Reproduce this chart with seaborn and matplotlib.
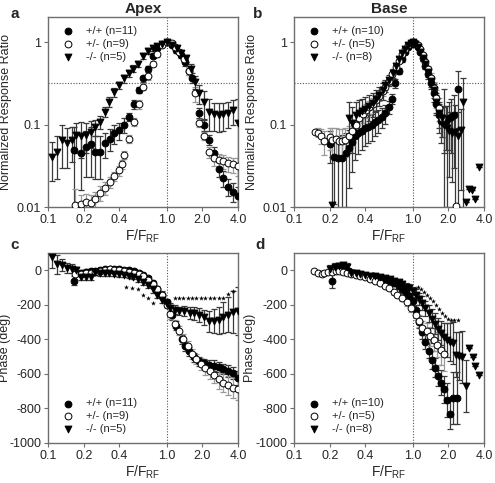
import numpy as np
import matplotlib
matplotlib.use("Agg")
import matplotlib.pyplot as plt
from matplotlib.ticker import NullLocator
import seaborn as sns

sns.set_theme(style="ticks")
plt.rcParams["font.family"] = ["Liberation Sans", "DejaVu Sans"]
plt.rcParams["mathtext.default"] = "regular"
plt.rcParams["axes.unicode_minus"] = False

# ---------------- panel a : apex, amplitude ----------------
a_wt_x = [0.165, 0.19, 0.21, 0.23, 0.25, 0.275, 0.30, 0.33, 0.36, 0.40, 0.44, 0.48, 0.53, 0.58, 0.63, 0.69, 0.76, 0.83,
          0.91, 1.0, 1.1, 1.21, 1.32, 1.44, 1.55, 1.62, 1.88, 2.07, 2.29, 2.52, 2.75, 3.0, 3.3, 3.62, 3.98]
a_wt_y = [0.049, 0.046, 0.053, 0.058, 0.047, 0.047, 0.060, 0.068, 0.079, 0.086, 0.099, 0.125, 0.177, 0.263, 0.364,
          0.48, 0.69, 0.84, 0.95, 1.0, 0.93, 0.80, 0.70, 0.57, 0.45, 0.37, 0.14, 0.099, 0.066, 0.046, 0.029, 0.0225,
          0.0178, 0.0155, 0.0135]
a_wt_e = [0.045, 0.03, 0.03, 0.035, 0.025, 0.025, 0.02, 0.02, 0.02, 0.02, 0.02, 0.015, 0.02, 0.02, 0.03, 0.04, 0.04,
          0.04, 0.03, 0.02, 0.04, 0.05, 0.05, 0.05, 0.05, 0.05, 0.02, 0.015, 0.01, 0.008, 0.006, 0.005, 0.004, 0.004,
          0.004]

a_het_x = [0.17, 0.19, 0.21, 0.23, 0.25, 0.275, 0.30, 0.33, 0.36, 0.40, 0.42, 0.44, 0.48, 0.53, 0.58, 0.63, 0.69, 0.76,
           0.83, 0.91, 1.0, 1.1, 1.18, 1.28, 1.4, 1.55, 1.73, 1.88, 2.07, 2.29, 2.53, 2.76, 3.0, 3.3, 3.6, 3.98]
a_het_y = [0.0105, 0.011, 0.0115, 0.0112, 0.0125, 0.015, 0.017, 0.020, 0.024, 0.028, 0.033, 0.043, 0.068, 0.109,
           0.177, 0.29, 0.39, 0.55, 0.71, 0.92, 1.0, 0.97, 0.88, 0.77, 0.62, 0.45, 0.24, 0.106, 0.074, 0.047, 0.039,
           0.037, 0.036, 0.034, 0.033, 0.032]
a_het_e = [0.006, 0.003, 0.003, 0.003, 0.003, 0.003, 0.003, 0.003, 0.003, 0.004, 0.004, 0.005, 0.008, 0.012, 0.02,
           0.03, 0.04, 0.04, 0.04, 0.03, 0.02, 0.03, 0.04, 0.05, 0.05, 0.05, 0.05, 0.012, 0.008, 0.007, 0.007, 0.007,
           0.007, 0.007, 0.007, 0.008]

a_ko_x = [0.109, 0.12, 0.132, 0.144, 0.158, 0.172, 0.19, 0.208, 0.229, 0.249, 0.275, 0.302, 0.329, 0.362, 0.397, 0.438,
          0.482, 0.525, 0.578, 0.63, 0.693, 0.76, 0.834, 0.92, 1.0, 1.1, 1.22, 1.32, 1.45, 1.59, 1.73, 1.88, 2.07,
          2.29, 2.53, 2.76, 3.0, 3.3, 3.6, 3.98]
a_ko_y = [0.041, 0.047, 0.065, 0.06, 0.065, 0.075, 0.074, 0.075, 0.082, 0.093, 0.109, 0.144, 0.19, 0.246, 0.30, 0.364,
          0.418, 0.48, 0.55, 0.68, 0.78, 0.84, 0.90, 0.96, 1.0, 0.92, 0.84, 0.73, 0.64, 0.48, 0.33, 0.24, 0.187,
          0.144, 0.134, 0.131, 0.134, 0.14, 0.15, 0.104]
a_ko_e = [0.02, 0.025, 0.035, 0.03, 0.03, 0.03, 0.035, 0.03, 0.03, 0.02, 0.02, 0.02, 0.025, 0.03, 0.03, 0.04, 0.04,
          0.05, 0.05, 0.06, 0.06, 0.05, 0.05, 0.03, 0.02, 0.04, 0.05, 0.06, 0.06, 0.06, 0.06, 0.06, 0.07, 0.06, 0.05,
          0.05, 0.05, 0.05, 0.05, 0.1]

# ---------------- panel b : base, amplitude ----------------
b_wt_x = [0.2, 0.217, 0.235, 0.255, 0.272, 0.29, 0.306, 0.327, 0.349, 0.372, 0.397, 0.424, 0.452, 0.483, 0.515, 0.55,
          0.587, 0.626, 0.668, 0.713, 0.76, 0.81, 0.86, 0.91, 0.96, 1.0, 1.05, 1.1, 1.16, 1.22, 1.28, 1.35, 1.42, 1.5,
          1.58, 1.66, 1.74, 1.83, 1.92, 2.02, 2.12, 2.23, 2.4]
b_wt_y = [0.059, 0.041, 0.039, 0.040, 0.045, 0.052, 0.062, 0.072, 0.079, 0.084, 0.09, 0.095, 0.099, 0.107, 0.114,
          0.125, 0.137, 0.165, 0.207, 0.32, 0.45, 0.62, 0.76, 0.88, 0.96, 1.0, 0.96, 0.88, 0.76, 0.64, 0.52, 0.41,
          0.32, 0.24, 0.18, 0.13, 0.11, 0.105, 0.11, 0.12, 0.125, 0.13, 0.27]
b_wt_e = [0.025, 0.03, 0.035, 0.035, 0.035, 0.035, 0.035, 0.035, 0.035, 0.035, 0.035, 0.035, 0.035, 0.035, 0.035,
          0.035, 0.035, 0.03, 0.03, 0.04, 0.04, 0.04, 0.03, 0.03, 0.02, 0.02, 0.02, 0.03, 0.04, 0.05, 0.05, 0.05,
          0.05, 0.05, 0.05, 0.05, 0.05, 0.06, 0.06, 0.07, 0.08, 0.1, 0.18]

b_het_x = [0.15, 0.16, 0.17, 0.18, 0.2, 0.21, 0.225, 0.24, 0.255, 0.27, 0.29, 0.31, 0.33, 0.355, 0.38, 0.405, 0.43,
           0.46, 0.49, 0.52, 0.56, 0.59, 0.63, 0.67, 0.72, 0.76, 0.81, 0.86, 0.91, 0.96, 1.0, 1.05, 1.1, 1.16, 1.22,
           1.28, 1.35, 1.42, 1.5, 1.58, 1.66, 1.75, 2.33]
b_het_y = [0.081, 0.08, 0.074, 0.063, 0.07, 0.066, 0.067, 0.064, 0.063, 0.066, 0.072, 0.085, 0.10, 0.12, 0.135, 0.15,
           0.165, 0.18, 0.20, 0.225, 0.255, 0.29, 0.335, 0.41, 0.50, 0.60, 0.72, 0.83, 0.92, 0.98, 1.0, 0.98, 0.92,
           0.82, 0.70, 0.58, 0.47, 0.37, 0.28, 0.21, 0.16, 0.12, 0.0102]
b_het_e = [0.0, 0.01, 0.015, 0.02, 0.02, 0.025, 0.025, 0.025, 0.025, 0.025, 0.025, 0.03, 0.03, 0.03, 0.03, 0.03, 0.03,
           0.03, 0.03, 0.03, 0.03, 0.03, 0.03, 0.03, 0.03, 0.03, 0.03, 0.03, 0.02, 0.02, 0.02, 0.02, 0.02, 0.03, 0.04,
           0.05, 0.05, 0.05, 0.05, 0.05, 0.05, 0.05, 0.0]

b_ko_x = [0.21, 0.29, 0.31, 0.33, 0.354, 0.375, 0.40, 0.43, 0.46, 0.49, 0.52, 0.56, 0.59, 0.63, 0.68, 0.72, 0.76, 0.81,
          0.86, 0.91, 0.96, 1.0, 1.05, 1.1, 1.16, 1.22, 1.28, 1.35, 1.42, 1.5, 1.58, 1.66, 1.75, 1.84, 1.94, 2.04,
          2.15, 2.27, 2.4, 2.54, 2.68, 2.84, 2.97, 3.15, 3.35, 3.6]
b_ko_y = [0.0105, 0.12, 0.105, 0.13, 0.14, 0.145, 0.155, 0.17, 0.185, 0.205, 0.23, 0.26, 0.30, 0.345, 0.42, 0.52, 0.62,
          0.73, 0.83, 0.92, 0.97, 1.0, 0.96, 0.88, 0.77, 0.65, 0.54, 0.43, 0.34, 0.26, 0.19, 0.14, 0.12, 0.10, 0.09,
          0.083, 0.08, 0.082, 0.072, 0.086, 0.19, 0.0116, 0.0165, 0.016, 0.0125, 0.031]
b_ko_e = [0.03, 0.07, 0.06, 0.06, 0.06, 0.06, 0.06, 0.06, 0.06, 0.06, 0.06, 0.06, 0.05, 0.05, 0.05, 0.04, 0.04, 0.03,
          0.03, 0.02, 0.02, 0.02, 0.02, 0.03, 0.04, 0.05, 0.05, 0.05, 0.05, 0.05, 0.05, 0.05, 0.05, 0.17, 0.08, 0.06,
          0.06, 0.09, 0.07, 0.07, 0.18, 0.0, 0.0, 0.0, 0.0, 0.0]

# ---------------- panel c : apex, phase ----------------
c_wt_x = [0.165, 0.19, 0.21, 0.23, 0.25, 0.275, 0.30, 0.33, 0.36, 0.40, 0.44, 0.48, 0.53, 0.58, 0.63, 0.69, 0.76, 0.83,
          0.91, 1.0, 1.1, 1.21, 1.34, 1.43, 1.55, 1.7, 1.88, 2.07, 2.28, 2.5, 2.74, 3.0, 3.3, 3.6, 3.98]
c_wt_y = [-60, -15, -10, -5, -5, 0, 5, 5, 5, 5, 2, 0, -5, -15, -25, -45, -75, -110, -140, -185, -260, -320, -400, -440,
          -470, -505, -527, -537, -547, -552, -560, -570, -581, -595, -625]
c_wt_e = [25, 15, 15, 15, 15, 15, 15, 10, 10, 10, 10, 10, 10, 10, 10, 15, 15, 15, 20, 20, 25, 25, 25, 25, 25, 25, 25,
          25, 25, 30, 30, 30, 35, 35, 40]

c_het_x = [0.17, 0.19, 0.21, 0.23, 0.25, 0.275, 0.30, 0.33, 0.36, 0.40, 0.44, 0.48, 0.53, 0.58, 0.63, 0.69, 0.76, 0.83,
           0.91, 1.0, 1.07, 1.17, 1.27, 1.38, 1.5, 1.63, 1.78, 1.94, 2.1, 2.3, 2.5, 2.75, 3.0, 3.3, 3.6, 3.98]
c_het_y = [-20, -20, -15, -15, -10, -5, 0, 5, 0, 0, -5, -10, -15, -20, -35, -55, -80, -110, -145, -200, -255, -310,
           -350, -395, -440, -485, -515, -545, -565, -585, -605, -630, -650, -665, -680, -690]
c_het_e = [15, 15, 15, 15, 15, 15, 15, 15, 15, 15, 15, 15, 15, 15, 15, 15, 20, 20, 20, 20, 25, 25, 25, 25, 30, 30, 30,
           35, 40, 45, 50, 55, 55, 55, 60, 60]

c_ko_x = [0.109, 0.12, 0.132, 0.144, 0.158, 0.172, 0.19, 0.208, 0.229, 0.249, 0.275, 0.302, 0.329, 0.362, 0.397, 0.438,
          0.482, 0.525, 0.578, 0.63, 0.693, 0.76, 0.834, 0.92, 1.0, 1.07, 1.17, 1.27, 1.4, 1.56, 1.7, 1.88, 2.07,
          2.28, 2.5, 2.74, 3.0, 3.3, 3.6, 3.98]
c_ko_y = [75, 35, 30, 15, 10, 0, -40, -40, -40, -10, -15, -15, -18, -20, -22, -25, -30, -38, -50, -65, -85, -110, -140,
          -170, -195, -217, -228, -236, -236, -246, -250, -260, -273, -295, -295, -290, -273, -256, -242, -236]
c_ko_e = [60, 55, 35, 30, 25, 20, 15, 15, 15, 15, 15, 15, 15, 15, 15, 15, 15, 15, 15, 20, 20, 20, 20, 20, 20, 25, 25,
          25, 30, 35, 40, 40, 45, 60, 70, 80, 90, 100, 120, 140]

c_star_x = [0.458, 0.513, 0.575, 0.63, 0.69, 0.76, 1.17, 1.27, 1.38, 1.5, 1.63, 1.78, 1.94, 2.1, 2.3, 2.5, 2.75, 3.0,
            3.27, 3.6]
c_star_y = [-95, -103, -110, -140, -159, -192, -158, -158, -160, -158, -160, -160, -162, -160, -162, -160, -160, -160,
            -135, -120]

# ---------------- panel d : base, phase ----------------
d_wt_x = [0.21, 0.23, 0.25, 0.27, 0.29, 0.32, 0.35, 0.38, 0.42, 0.46, 0.5, 0.55, 0.6, 0.65, 0.7, 0.76, 0.82, 0.88,
          0.94, 1.0, 1.06, 1.13, 1.2, 1.28, 1.36, 1.45, 1.54, 1.63, 1.73, 1.83, 1.94, 2.06, 2.2, 2.35]
d_wt_y = [-60, 10, 20, 15, -5, -15, -20, -25, -30, -35, -40, -48, -55, -65, -75, -90, -110, -130, -150, -180, -230,
          -300, -360, -415, -465, -520, -565, -610, -650, -690, -750, -830, -740, -740]
d_wt_e = [40, 20, 20, 20, 15, 10, 10, 10, 10, 10, 10, 10, 15, 15, 15, 15, 20, 20, 20, 25, 30, 35, 40, 40, 45, 50, 55,
          60, 70, 80, 100, 90, 150, 150]

d_het_x = [0.147, 0.16, 0.171, 0.18, 0.195, 0.21, 0.225, 0.24, 0.26, 0.28, 0.3, 0.33, 0.36, 0.4, 0.44, 0.48, 0.53,
           0.58, 0.63, 0.69, 0.74, 0.82, 0.9, 0.97, 1.06, 1.13, 1.2, 1.31, 1.41, 1.51, 1.61, 1.72, 1.82]
d_het_y = [-4, -14, -23, -14, -10, -10, -5, -5, -10, -15, -20, -25, -32, -40, -50, -60, -72, -90, -105, -125, -140,
           -159, -184, -217, -256, -295, -333, -353, -382, -401, -430, -460, -485]
d_het_e = [5, 5, 5, 5, 5, 10, 10, 10, 10, 10, 10, 10, 10, 10, 10, 10, 10, 10, 10, 15, 15, 20, 20, 25, 30, 35, 40, 45,
           55, 65, 75, 90, 100]

d_ko_x = [0.2, 0.22, 0.24, 0.26, 0.28, 0.3, 0.33, 0.36, 0.4, 0.44, 0.48, 0.53, 0.58, 0.64, 0.7, 0.76, 0.82, 0.88, 0.94,
          1.0, 1.06, 1.13, 1.2, 1.28, 1.36, 1.45, 1.54, 1.63, 1.73, 1.84, 1.95, 2.07, 2.2, 2.33, 2.47, 2.62, 2.83,
          2.97, 3.2, 3.38, 3.6]
d_ko_y = [10, 20, 25, 30, 20, -15, -18, -22, -28, -32, -35, -40, -45, -52, -60, -70, -80, -95, -105, -120, -140, -165,
          -190, -220, -250, -280, -310, -340, -365, -385, -405, -415, -420, -490, -495, -500, -670, -450, -505, -555,
          -605]
d_ko_e = [20, 20, 20, 20, 20, 10, 10, 10, 10, 10, 10, 10, 10, 10, 15, 15, 20, 20, 25, 25, 30, 35, 40, 45, 50, 55, 60,
          65, 70, 80, 100, 110, 120, 130, 140, 150, 150, 0, 0, 0, 0]

d_star_x = [1.1, 1.17, 1.24, 1.32, 1.4, 1.49, 1.58, 1.68, 1.78, 1.89, 2.0, 2.12, 2.25, 2.39]
d_star_y = [-95, -110, -125, -140, -160, -178, -200, -222, -245, -265, -282, -290, -290, -288]

x_ticks = [0.1, 0.2, 0.4, 1.0, 2.0, 4.0]
x_ticklabels = ["0.1", "0.2", "0.4", "1.0", "2.0", "4.0"]
labels_apex = ["+/+ (n=11)", "+/- (n=9)", "-/- (n=5)"]
labels_base = ["+/+ (n=10)", "+/- (n=5)", "-/- (n=8)"]

SPINE = "#6e6e6e"
fig = plt.figure(figsize=(4.95, 4.83), dpi=100)
ax_a = fig.add_axes([0.097, 0.571, 0.384, 0.393])
ax_b = fig.add_axes([0.594, 0.571, 0.384, 0.393])
ax_c = fig.add_axes([0.097, 0.083, 0.384, 0.393])
ax_d = fig.add_axes([0.594, 0.083, 0.384, 0.393])


def draw_series(ax, x, y, e, kind, label):
    if kind == "wt":
        fc, ec, mk, bc = "black", "black", "o", "#3a3a3a"
    elif kind == "het":
        fc, ec, mk, bc = "white", "black", "o", "#9a9a9a"
    else:
        fc, ec, mk, bc = "black", "black", "v", "#3a3a3a"
    ax.errorbar(x, y, yerr=e, fmt="none", ecolor=bc, elinewidth=0.9, capsize=2, capthick=0.9, zorder=2)
    sns.scatterplot(x=x, y=y, ax=ax, marker=mk, s=24, color=fc, edgecolor=ec, linewidth=0.7,
                    label=label, zorder=3)


def style_axes(ax, logy, ylab_x):
    ax.set_xscale("log")
    ax.set_xlim(0.1, 4.0)
    ax.set_xticks(x_ticks)
    ax.set_xticklabels(x_ticklabels)
    ax.xaxis.set_minor_locator(NullLocator())
    if logy:
        ax.set_yscale("log")
        ax.set_ylim(0.01, 2.0)
        ax.set_yticks([0.01, 0.1, 1])
        ax.set_yticklabels(["0.01", "0.1", "1"])
        ax.yaxis.set_minor_locator(NullLocator())
        ax.axhline(0.316, color="#555555", lw=0.8, ls=(0, (1, 1.5)), zorder=1)
        ax.set_ylabel("Normalized Response Ratio", fontsize=9)
    else:
        ax.set_ylim(-1000, 100)
        ax.set_yticks([0, -200, -400, -600, -800, -1000])
        ax.set_ylabel("Phase (deg)", fontsize=9)
    ax.yaxis.set_label_coords(ylab_x, 0.5)
    ax.axvline(1.0, color="#555555", lw=0.8, ls=(0, (1, 1.5)), zorder=1)
    ax.set_xlabel(r"F/F$_{RF}$", fontsize=10, labelpad=1)
    for sp in ax.spines.values():
        sp.set_color(SPINE)
        sp.set_linewidth(1.0)
    ax.tick_params(axis="both", which="major", labelsize=9, length=3, width=0.8, color=SPINE, pad=2)
    ax.grid(False)


panels = [
    (ax_a, True, labels_apex, [(a_wt_x, a_wt_y, a_wt_e), (a_het_x, a_het_y, a_het_e), (a_ko_x, a_ko_y, a_ko_e)],
     None, "upper left", -0.19),
    (ax_b, True, labels_base, [(b_wt_x, b_wt_y, b_wt_e), (b_het_x, b_het_y, b_het_e), (b_ko_x, b_ko_y, b_ko_e)],
     None, "upper left", -0.19),
    (ax_c, False, labels_apex, [(c_wt_x, c_wt_y, c_wt_e), (c_het_x, c_het_y, c_het_e), (c_ko_x, c_ko_y, c_ko_e)],
     (c_star_x, c_star_y), "lower left", -0.195),
    (ax_d, False, labels_base, [(d_wt_x, d_wt_y, d_wt_e), (d_het_x, d_het_y, d_het_e), (d_ko_x, d_ko_y, d_ko_e)],
     (d_star_x, d_star_y), "lower left", -0.2),
]

for ax, logy, labels, series, stars, loc, ylab_x in panels:
    for (x, y, e), kind, lab in zip(series, ["wt", "het", "ko"], labels):
        draw_series(ax, x, y, e, kind, lab)
    if stars is not None:
        sns.scatterplot(x=stars[0], y=stars[1], ax=ax, marker="*", s=14, color="black", linewidth=0, zorder=4)
    style_axes(ax, logy, ylab_x)
    ax.legend(loc=loc, frameon=False, fontsize=8, handletextpad=0.6, borderaxespad=0.4,
              labelspacing=0.25, markerscale=1.0)

ax_a.set_title("Apex", fontsize=11, fontweight="bold", pad=3)
ax_b.set_title("Base", fontsize=11, fontweight="bold", pad=3)
fig.text(0.022, 0.962, "a", fontsize=11, fontweight="bold")
fig.text(0.51, 0.962, "b", fontsize=11, fontweight="bold")
fig.text(0.02, 0.485, "c", fontsize=11, fontweight="bold")
fig.text(0.515, 0.485, "d", fontsize=11, fontweight="bold")

fig.savefig("out.png", dpi=100)
